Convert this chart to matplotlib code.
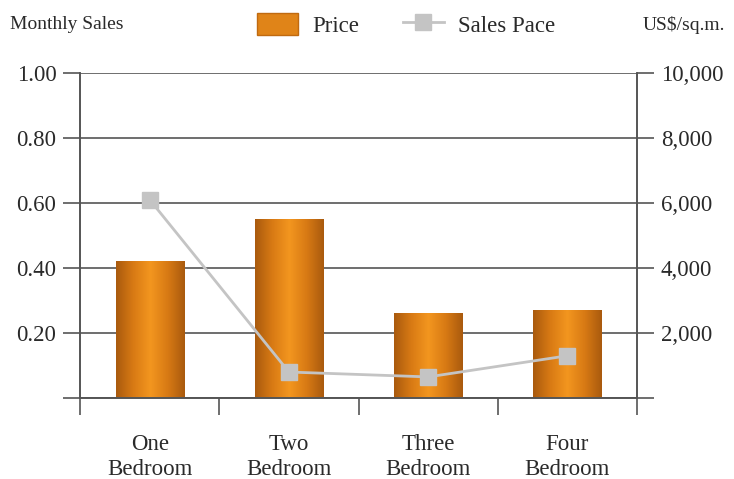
import matplotlib
matplotlib.use("Agg")
import matplotlib.pyplot as plt
import numpy as np
from matplotlib.colors import LinearSegmentedColormap
from matplotlib.patches import Patch
from matplotlib.lines import Line2D

categories = ["One\nBedroom", "Two\nBedroom", "Three\nBedroom", "Four\nBedroom"]
price = [4200, 5500, 2600, 2700]          # US$/sq.m. (right axis)
sales_pace = [0.61, 0.08, 0.065, 0.13]    # monthly sales (left axis)
left_ticks = [0.2, 0.4, 0.6, 0.8, 1.0]
right_ticks = [2000, 4000, 6000, 8000, 10000]

plt.rcParams["font.family"] = ["Liberation Serif", "DejaVu Serif"]

grad = LinearSegmentedColormap.from_list(
    "bar", ["#a95a0e", "#d87a14", "#f3961f", "#d87a14", "#a95a0e"])

fig = plt.figure(figsize=(7.34, 4.79), dpi=100)
ax2 = fig.add_axes([0.109, 0.169, 0.759, 0.679])
ax = ax2.twinx()
ax.yaxis.tick_left()
ax2.yaxis.tick_right()
ax.set_zorder(ax2.get_zorder() + 1)
ax.patch.set_visible(False)

x = np.arange(len(categories))
bars = ax2.bar(x, price, width=0.49, color="#e08418", zorder=2)
gx = np.linspace(0, 1, 256).reshape(1, -1)
for b in bars:
    x0, y0 = b.get_x(), b.get_y()
    im = ax2.imshow(gx, cmap=grad, aspect="auto", zorder=2.5,
                    extent=[x0, x0 + b.get_width(), y0, y0 + b.get_height()])
    im.set_clip_path(b)
    b.set_facecolor("none")

ax2.set_ylim(0, 10000)
ax2.set_xlim(-0.5, len(categories) - 0.5)
ax2.set_yticks([0] + right_ticks)
ax2.set_yticklabels([""] + [f"{v:,}" for v in right_ticks])
ax2.grid(axis="y", color="#555555", lw=1.2, zorder=1)
ax2.set_axisbelow(True)

ax.plot(x, sales_pace, color="#c4c4c4", lw=2, marker="s", ms=11,
        markerfacecolor="#c4c4c4", markeredgecolor="#c4c4c4", zorder=3)
ax.set_ylim(0, 1.0)
ax.set_yticks([0] + left_ticks)
ax.set_yticklabels([""] + [f"{v:.2f}" for v in left_ticks])

for a in (ax, ax2):
    a.spines["top"].set_visible(False)
    for s in ("left", "right", "bottom"):
        a.spines[s].set_color("#555555")
        a.spines[s].set_linewidth(1.2)
    a.tick_params(axis="y", length=12, width=1.2, color="#555555",
                  labelsize=16.5, labelcolor="#2a2a2a", pad=5)

ax2.set_xticks(np.arange(-0.5, len(categories), 1.0))
ax2.set_xticklabels([])
ax2.set_xticks(x, minor=True)
ax2.set_xticklabels(categories, minor=True, fontsize=16.5, color="#2a2a2a",
                    linespacing=1.25)
ax2.tick_params(axis="x", which="major", length=12, width=1.2, color="#555555")
ax2.tick_params(axis="x", which="minor", length=0, pad=26)

fig.text(0.014, 0.948, "Monthly Sales", fontsize=14, color="#2a2a2a", va="center")
fig.text(0.988, 0.948, "US$/sq.m.", fontsize=14, color="#2a2a2a",
         va="center", ha="right")
handles = [Patch(facecolor="#e08418", edgecolor="#c06a10"),
           Line2D([], [], color="#c4c4c4", lw=2, marker="s", ms=11)]
fig.legend(handles, ["Price", "Sales Pace"], loc="center", ncol=2,
           bbox_to_anchor=(0.553, 0.948), frameon=False, fontsize=16.5,
           handlelength=1.8, handleheight=1.1, handletextpad=0.6,
           columnspacing=1.9, labelcolor="#2a2a2a")

fig.savefig("out.png", dpi=100)
